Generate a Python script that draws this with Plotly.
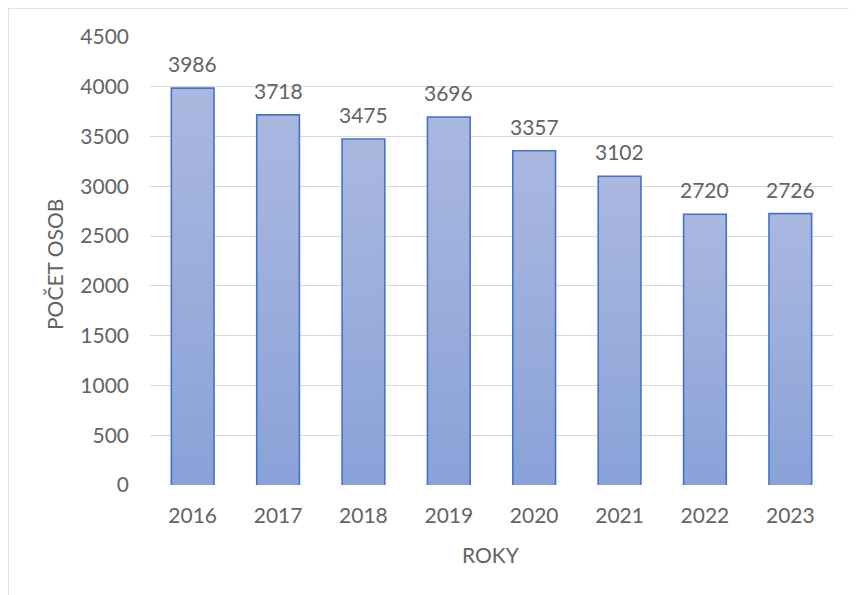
import plotly.graph_objects as go

years = ["2016", "2017", "2018", "2019", "2020", "2021", "2022", "2023"]
counts = [3986, 3718, 3475, 3696, 3357, 3102, 2720, 2726]
y_ticks = [0, 500, 1000, 1500, 2000, 2500, 3000, 3500, 4000, 4500]

FONT = "Lato"
TXT = "#636363"
GRID = "#d9d9d9"
EDGE = "#4472c4"
TOP_COL = "#aab8df"
BOT_COL = "#8aa2d9"
HALF = 0.25

OFF = 8  # page body offset
W, H = 857, 595
ML, MT = 150 - OFF, 37 - OFF
MR = W - (833 - OFF)
MB = H - (485 - OFF)
pw, ph = W - ML - MR, H - MT - MB


def px_x(p):
    return (p - OFF - ML) / pw


def px_y(p):
    return (MT + ph - (p - OFF)) / ph


fig = go.Figure()
for i, (yr, v) in enumerate(zip(years, counts)):
    fig.add_trace(go.Scatter(
        x=[i - HALF, i - HALF, i + HALF, i + HALF],
        y=[0, v, v, 0],
        mode="lines",
        fill="toself",
        fillgradient=dict(type="vertical",
                          colorscale=[[0, BOT_COL], [1, TOP_COL]]),
        line=dict(color=EDGE, width=1.6),
        hoverinfo="skip",
        showlegend=False,
        name=yr,
    ))

annotations = []
for i, v in enumerate(counts):
    annotations.append(dict(
        x=i, y=v, xref="x", yref="y", text=str(v), showarrow=False,
        yanchor="bottom", yshift=10,
        font=dict(family=FONT, size=21, color=TXT),
    ))

annotations.append(dict(
    x=px_x(491), y=px_y(554), xref="paper", yref="paper",
    text="ROKY", showarrow=False, xanchor="center", yanchor="middle",
    font=dict(family=FONT, size=21, color=TXT),
))
annotations.append(dict(
    x=px_x(54), y=px_y(265), xref="paper", yref="paper",
    text="POČET OSOB", showarrow=False, textangle=-90,
    xanchor="center", yanchor="middle",
    font=dict(family=FONT, size=21, color=TXT),
))

shapes = [
    dict(type="line", xref="paper", yref="paper",
         x0=px_x(8), x1=px_x(8), y0=px_y(8), y1=px_y(640),
         line=dict(color=GRID, width=1.6)),
    dict(type="line", xref="paper", yref="paper",
         x0=px_x(8), x1=px_x(900), y0=px_y(8), y1=px_y(8),
         line=dict(color=GRID, width=1.6)),
]

fig.update_layout(
    width=W, height=H,
    margin=dict(l=ML, r=MR, t=MT, b=MB),
    paper_bgcolor="white", plot_bgcolor="white",
    font=dict(family=FONT, size=21, color=TXT),
    xaxis=dict(
        range=[-0.5, len(years) - 0.5],
        tickmode="array", tickvals=list(range(len(years))), ticktext=years,
        showgrid=False, zeroline=False, showline=False, ticks="",
        ticklabelstandoff=16,
        tickfont=dict(family=FONT, size=21, color=TXT),
    ),
    yaxis=dict(
        range=[0, 4500],
        tickmode="array", tickvals=y_ticks,
        showgrid=True, gridcolor=GRID, gridwidth=1.3,
        zeroline=False, showline=False, ticks="",
        ticklabelstandoff=20,
        tickfont=dict(family=FONT, size=21, color=TXT),
    ),
    annotations=annotations,
    shapes=shapes,
)

fig.write_html("out.html")
